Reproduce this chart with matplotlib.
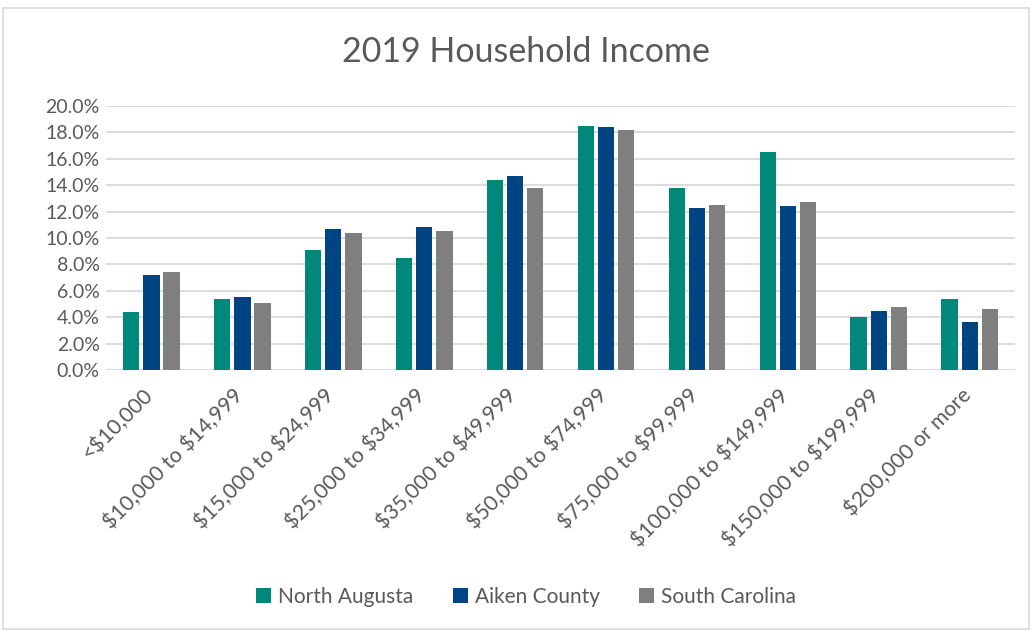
import matplotlib
matplotlib.use("Agg")
import matplotlib.pyplot as plt
import matplotlib.transforms as mtransforms
import numpy as np
from matplotlib.ticker import PercentFormatter
from matplotlib.patches import Rectangle

categories = ["<$10,000", "$10,000 to $14,999", "$15,000 to $24,999", "$25,000 to $34,999",
              "$35,000 to $49,999", "$50,000 to $74,999", "$75,000 to $99,999",
              "$100,000 to $149,999", "$150,000 to $199,999", "$200,000 or more"]
north_augusta = [4.4, 5.4, 9.1, 8.5, 14.4, 18.5, 13.8, 16.5, 4.0, 5.4]
aiken_county = [7.2, 5.5, 10.7, 10.8, 14.7, 18.4, 12.3, 12.4, 4.5, 3.6]
south_carolina = [7.4, 5.1, 10.4, 10.5, 13.8, 18.2, 12.5, 12.7, 4.8, 4.6]
series_names = ["North Augusta", "Aiken County", "South Carolina"]
colors = ["#00897B", "#004582", "#7F7F7F"]

plt.rcParams['font.family'] = ['Lato', 'DejaVu Sans']
plt.rcParams['text.parse_math'] = False
txt = "#595959"

fig = plt.figure(figsize=(10.32, 6.31), dpi=100)
ax = fig.add_axes([0.1027, 0.4136, 0.881, 0.4184])

x = np.arange(len(categories))
step = 0.222
bw = 0.18
for i, (vals, name, c) in enumerate(zip([north_augusta, aiken_county, south_carolina], series_names, colors)):
    ax.bar(x + (i - 1) * step, vals, width=bw, color=c, edgecolor="none", label=name, zorder=3)

ax.set_xlim(-0.5, len(categories) - 0.5)
ax.set_ylim(0, 20)
ax.set_yticks(np.arange(0, 20.1, 2))
ax.yaxis.set_major_formatter(PercentFormatter(decimals=1))
ax.grid(axis="y", color="#D9D9D9", linewidth=1.3, zorder=0)
for s in ax.spines.values():
    s.set_visible(False)
ax.tick_params(axis="y", length=0, colors=txt, labelsize=14, pad=4.5)
ax.set_xticks(x)
ax.set_xticklabels(categories, rotation=45, ha="right", va="center", rotation_mode="anchor")
ax.tick_params(axis="x", length=0, colors=txt, labelsize=15.3, pad=16)
offset = mtransforms.ScaledTranslation(-2 / 100, 0, fig.dpi_scale_trans)
for lbl in ax.get_xticklabels():
    lbl.set_transform(lbl.get_transform() + offset)

fig.text(0.51, 0.918, "2019 Household Income", ha="center", va="center", fontsize=24.5, color=txt)

fig.legend(loc="center", bbox_to_anchor=(0.51, 0.054), ncol=3, frameon=False, fontsize=15,
           labelcolor=txt, handlelength=0.7, handleheight=0.7, handletextpad=0.35, columnspacing=1.9)

fig.patches.append(Rectangle((0.003, 0.003), 0.994, 0.985, transform=fig.transFigure,
                             fill=False, edgecolor="#D9D9D9", linewidth=1.2))

fig.savefig("out.png", dpi=100, facecolor="white")
